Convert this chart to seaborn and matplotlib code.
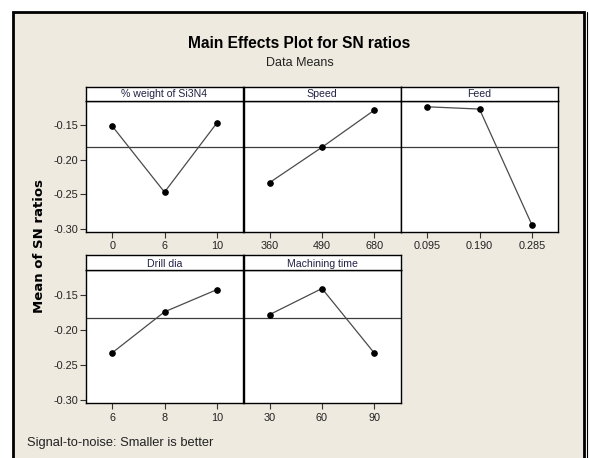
import matplotlib
matplotlib.use("Agg")
import matplotlib.pyplot as plt
from matplotlib.patches import Rectangle
import pandas as pd
import seaborn as sns

# ---------------- data ----------------
factors = ["% weight of Si3N4", "Speed", "Feed", "Drill dia", "Machining time"]
levels_weight = ["0", "6", "10"]
levels_speed = ["360", "490", "680"]
levels_feed = ["0.095", "0.190", "0.285"]
levels_drill = ["6", "8", "10"]
levels_time = ["30", "60", "90"]
sn_weight = [-0.151, -0.2466, -0.1467]
sn_speed = [-0.2327, -0.1817, -0.128]
sn_feed = [-0.1232, -0.1265, -0.2937]
sn_drill = [-0.2322, -0.1737, -0.142]
sn_time = [-0.1776, -0.1404, -0.2326]
grand_mean = -0.182
y_ticks = [-0.30, -0.25, -0.20, -0.15]
y_tick_labels = ["-0.30", "-0.25", "-0.20", "-0.15"]

levels = [levels_weight, levels_speed, levels_feed, levels_drill, levels_time]
values = [sn_weight, sn_speed, sn_feed, sn_drill, sn_time]

# ---------------- style ----------------
sns.set_theme(style="white")
FONT = ["Liberation Sans", "DejaVu Sans"]
plt.rcParams["font.family"] = FONT
plt.rcParams["axes.unicode_minus"] = False

W, H = 589, 458
fig = plt.figure(figsize=(W / 100, H / 100), dpi=100, facecolor="white")

def fx(px):
    return px / W

def fy(py):
    return 1 - py / H

# background frame
fig.patches.append(Rectangle((fx(13), fy(470)), fx(584) - fx(13), fy(11.5) - fy(470),
                             transform=fig.transFigure, facecolor="#EEEAE0",
                             edgecolor="black", linewidth=2.0, zorder=-5))
fig.lines.append(plt.Line2D([fx(586.7), fx(586.7)], [0, fy(11.5)], transform=fig.transFigure,
                            color="black", linewidth=0.8, zorder=-4))

col_left = [86, 243.5, 401]
col_w = 157
rows = [(86.5, 100.7, 231.7), (255.5, 270.3, 403)]  # header top, plot top, plot bottom
ylim = (-0.3038, -0.1144)

positions = [(0, 0), (0, 1), (0, 2), (1, 0), (1, 1)]

for i, (r, c) in enumerate(positions):
    htop, ptop, pbot = rows[r]
    left = col_left[c]
    ax = fig.add_axes([fx(left), fy(pbot), col_w / W, (pbot - ptop) / H])
    ax.set_facecolor("white")
    df = pd.DataFrame({"level": levels[i], "sn": values[i]})
    ax.axhline(grand_mean, color="#3c3c3c", linewidth=0.9, zorder=1)
    sns.lineplot(data=df, x="level", y="sn", ax=ax, color="#4a4a4a", linewidth=0.9,
                 marker="o", markersize=4.0, markerfacecolor="black",
                 markeredgecolor="black", sort=False, zorder=3)
    ax.set_xlim(-0.5, len(levels[i]) - 0.5)
    ax.set_ylim(*ylim)
    ax.set_xlabel("")
    ax.set_ylabel("")
    ax.set_xticks(range(len(levels[i])))
    ax.set_xticklabels(levels[i], fontsize=7.8, color="#222222")
    ax.tick_params(axis="x", bottom=True, length=4, width=0.8, pad=3, color="#333333")
    if c == 0:
        ax.set_yticks(y_ticks)
        ax.set_yticklabels(y_tick_labels, fontsize=7.8, color="#222222")
        ax.tick_params(axis="y", left=True, length=4, width=0.8, pad=1.5, color="#333333")
    else:
        ax.set_yticks([])
    for s in ax.spines.values():
        s.set_color("black")
        s.set_linewidth(1.0)
    # header strip
    hax = fig.add_axes([fx(left), fy(ptop), col_w / W, (ptop - htop) / H])
    hax.set_facecolor("white")
    hax.set_xticks([])
    hax.set_yticks([])
    for s in hax.spines.values():
        s.set_color("black")
        s.set_linewidth(1.0)
    hax.text(0.5, 0.45, factors[i], ha="center", va="center", fontsize=7.6,
             color="#222244", transform=hax.transAxes)

fig.text(fx(299.5), fy(44), "Main Effects Plot for SN ratios", ha="center", va="center",
         fontsize=11.2, fontweight="bold", color="black")
fig.text(fx(300), fy(63), "Data Means", ha="center", va="center", fontsize=9,
         color="#222222")
fig.text(fx(40), fy(246), "Mean of SN ratios", rotation=90, ha="center", va="center",
         fontsize=9.5, fontweight="bold", family=["DejaVu Sans"], color="black")
fig.text(fx(27), fy(443), "Signal-to-noise: Smaller is better", ha="left", va="center",
         fontsize=9.3, color="#222222")

fig.savefig("out.png", dpi=100, facecolor="white")
